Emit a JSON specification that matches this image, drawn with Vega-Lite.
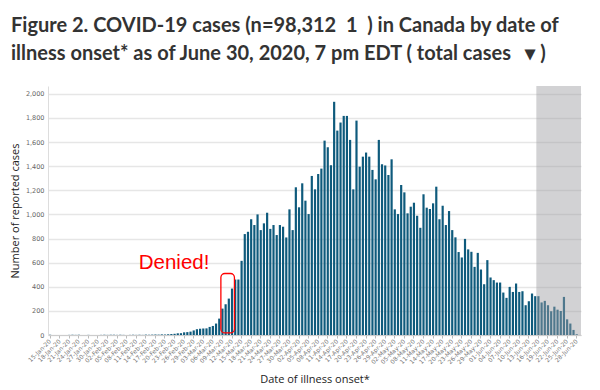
{
  "$schema": "https://vega.github.io/schema/vega-lite/v6.json",
  "width": 533,
  "height": 249,
  "autosize": {"type": "none"},
  "padding": {"left": 48, "top": 86, "right": 19, "bottom": 55},
  "background": "white",
  "title": {
    "text": ["Figure 2. COVID-19 cases (n=98,312\u00a0\u00a01\u00a0\u00a0) in Canada by date of", "illness onset* as of June 30, 2020, 7 pm EDT (\u00a0total cases\u00a0\u00a0\u00a0\u25be\u00a0)"],
    "anchor": "start",
    "frame": "group",
    "dx": -37,
    "offset": 22,
    "font": "Lato",
    "fontWeight": "bold",
    "fontSize": 20,
    "lineHeight": 28,
    "color": "#333333"
  },
  "config": {"view": {"stroke": null}},
  "resolve": {"axis": {"x": "independent", "y": "independent"}},
  "data": {"values": [
    {"date": "2020-01-15", "cases": 2}, {"date": "2020-01-16", "cases": 0}, {"date": "2020-01-17", "cases": 0}, {"date": "2020-01-18", "cases": 0}, {"date": "2020-01-19", "cases": 0}, {"date": "2020-01-20", "cases": 0}, {"date": "2020-01-21", "cases": 1}, {"date": "2020-01-22", "cases": 2}, {"date": "2020-01-23", "cases": 1}, {"date": "2020-01-24", "cases": 2}, {"date": "2020-01-25", "cases": 0}, {"date": "2020-01-26", "cases": 0}, {"date": "2020-01-27", "cases": 1}, {"date": "2020-01-28", "cases": 0}, {"date": "2020-01-29", "cases": 0}, {"date": "2020-01-30", "cases": 0}, {"date": "2020-01-31", "cases": 1},
    {"date": "2020-02-01", "cases": 2}, {"date": "2020-02-02", "cases": 1}, {"date": "2020-02-03", "cases": 2}, {"date": "2020-02-04", "cases": 2}, {"date": "2020-02-05", "cases": 1}, {"date": "2020-02-06", "cases": 2}, {"date": "2020-02-07", "cases": 1}, {"date": "2020-02-08", "cases": 0}, {"date": "2020-02-09", "cases": 1}, {"date": "2020-02-10", "cases": 2}, {"date": "2020-02-11", "cases": 1}, {"date": "2020-02-12", "cases": 2}, {"date": "2020-02-13", "cases": 1}, {"date": "2020-02-14", "cases": 3}, {"date": "2020-02-15", "cases": 2}, {"date": "2020-02-16", "cases": 3}, {"date": "2020-02-17", "cases": 4}, {"date": "2020-02-18", "cases": 3}, {"date": "2020-02-19", "cases": 5}, {"date": "2020-02-20", "cases": 4}, {"date": "2020-02-21", "cases": 6}, {"date": "2020-02-22", "cases": 8}, {"date": "2020-02-23", "cases": 10}, {"date": "2020-02-24", "cases": 14}, {"date": "2020-02-25", "cases": 15}, {"date": "2020-02-26", "cases": 22}, {"date": "2020-02-27", "cases": 24}, {"date": "2020-02-28", "cases": 28}, {"date": "2020-02-29", "cases": 38},
    {"date": "2020-03-01", "cases": 48}, {"date": "2020-03-02", "cases": 52}, {"date": "2020-03-03", "cases": 54}, {"date": "2020-03-04", "cases": 55}, {"date": "2020-03-05", "cases": 67}, {"date": "2020-03-06", "cases": 75}, {"date": "2020-03-07", "cases": 95}, {"date": "2020-03-08", "cases": 136}, {"date": "2020-03-09", "cases": 219}, {"date": "2020-03-10", "cases": 255}, {"date": "2020-03-11", "cases": 302}, {"date": "2020-03-12", "cases": 385}, {"date": "2020-03-13", "cases": 460}, {"date": "2020-03-14", "cases": 460}, {"date": "2020-03-15", "cases": 615}, {"date": "2020-03-16", "cases": 837}, {"date": "2020-03-17", "cases": 856}, {"date": "2020-03-18", "cases": 960}, {"date": "2020-03-19", "cases": 912}, {"date": "2020-03-20", "cases": 1000}, {"date": "2020-03-21", "cases": 870}, {"date": "2020-03-22", "cases": 926}, {"date": "2020-03-23", "cases": 1014}, {"date": "2020-03-24", "cases": 880}, {"date": "2020-03-25", "cases": 912}, {"date": "2020-03-26", "cases": 829}, {"date": "2020-03-27", "cases": 912}, {"date": "2020-03-28", "cases": 898}, {"date": "2020-03-29", "cases": 809}, {"date": "2020-03-30", "cases": 1042}, {"date": "2020-03-31", "cases": 870},
    {"date": "2020-04-01", "cases": 1225}, {"date": "2020-04-02", "cases": 1059}, {"date": "2020-04-03", "cases": 1258}, {"date": "2020-04-04", "cases": 1114}, {"date": "2020-04-05", "cases": 1003}, {"date": "2020-04-06", "cases": 1319}, {"date": "2020-04-07", "cases": 1208}, {"date": "2020-04-08", "cases": 1335}, {"date": "2020-04-09", "cases": 1380}, {"date": "2020-04-10", "cases": 1612}, {"date": "2020-04-11", "cases": 1557}, {"date": "2020-04-12", "cases": 1408}, {"date": "2020-04-13", "cases": 1934}, {"date": "2020-04-14", "cases": 1695}, {"date": "2020-04-15", "cases": 1762}, {"date": "2020-04-16", "cases": 1817}, {"date": "2020-04-17", "cases": 1817}, {"date": "2020-04-18", "cases": 1618}, {"date": "2020-04-19", "cases": 1208}, {"date": "2020-04-20", "cases": 1778}, {"date": "2020-04-21", "cases": 1396}, {"date": "2020-04-22", "cases": 1479}, {"date": "2020-04-23", "cases": 1513}, {"date": "2020-04-24", "cases": 1479}, {"date": "2020-04-25", "cases": 1369}, {"date": "2020-04-26", "cases": 1291}, {"date": "2020-04-27", "cases": 1618}, {"date": "2020-04-28", "cases": 1416}, {"date": "2020-04-29", "cases": 1406}, {"date": "2020-04-30", "cases": 1327},
    {"date": "2020-05-01", "cases": 1457}, {"date": "2020-05-02", "cases": 1042}, {"date": "2020-05-03", "cases": 1003}, {"date": "2020-05-04", "cases": 1244}, {"date": "2020-05-05", "cases": 1183}, {"date": "2020-05-06", "cases": 1009}, {"date": "2020-05-07", "cases": 1064}, {"date": "2020-05-08", "cases": 1097}, {"date": "2020-05-09", "cases": 989}, {"date": "2020-05-10", "cases": 889}, {"date": "2020-05-11", "cases": 1167}, {"date": "2020-05-12", "cases": 1056}, {"date": "2020-05-13", "cases": 1045}, {"date": "2020-05-14", "cases": 1092}, {"date": "2020-05-15", "cases": 1230}, {"date": "2020-05-16", "cases": 960}, {"date": "2020-05-17", "cases": 1072}, {"date": "2020-05-18", "cases": 912}, {"date": "2020-05-19", "cases": 1028}, {"date": "2020-05-20", "cases": 870}, {"date": "2020-05-21", "cases": 810}, {"date": "2020-05-22", "cases": 688}, {"date": "2020-05-23", "cases": 643}, {"date": "2020-05-24", "cases": 797}, {"date": "2020-05-25", "cases": 710}, {"date": "2020-05-26", "cases": 690}, {"date": "2020-05-27", "cases": 565}, {"date": "2020-05-28", "cases": 681}, {"date": "2020-05-29", "cases": 543}, {"date": "2020-05-30", "cases": 421}, {"date": "2020-05-31", "cases": 621},
    {"date": "2020-06-01", "cases": 477}, {"date": "2020-06-02", "cases": 455}, {"date": "2020-06-03", "cases": 435}, {"date": "2020-06-04", "cases": 435}, {"date": "2020-06-05", "cases": 352}, {"date": "2020-06-06", "cases": 308}, {"date": "2020-06-07", "cases": 399}, {"date": "2020-06-08", "cases": 357}, {"date": "2020-06-09", "cases": 427}, {"date": "2020-06-10", "cases": 357}, {"date": "2020-06-11", "cases": 363}, {"date": "2020-06-12", "cases": 247}, {"date": "2020-06-13", "cases": 280}, {"date": "2020-06-14", "cases": 344}, {"date": "2020-06-15", "cases": 322}, {"date": "2020-06-16", "cases": 322}, {"date": "2020-06-17", "cases": 270}, {"date": "2020-06-18", "cases": 283}, {"date": "2020-06-19", "cases": 247}, {"date": "2020-06-20", "cases": 197}, {"date": "2020-06-21", "cases": 235}, {"date": "2020-06-22", "cases": 210}, {"date": "2020-06-23", "cases": 200}, {"date": "2020-06-24", "cases": 316}, {"date": "2020-06-25", "cases": 130}, {"date": "2020-06-26", "cases": 95}, {"date": "2020-06-27", "cases": 42}, {"date": "2020-06-28", "cases": 6}, {"date": "2020-06-29", "cases": 0}
  ]},
  "layer": [
    {
      "mark": {"type": "bar", "color": "#0e5a7c"},
      "encoding": {
        "x": {
          "field": "date", "timeUnit": "utcyearmonthdate", "type": "temporal",
          "scale": {"domain": [{"year": 2020, "month": 1, "date": 15, "utc": true}, {"year": 2020, "month": 6, "date": 30, "utc": true}]},
          "axis": {
            "values": [
              {"year": 2020, "month": 1, "date": 15, "hours": 12, "utc": true}, {"year": 2020, "month": 1, "date": 18, "hours": 12, "utc": true}, {"year": 2020, "month": 1, "date": 21, "hours": 12, "utc": true}, {"year": 2020, "month": 1, "date": 24, "hours": 12, "utc": true}, {"year": 2020, "month": 1, "date": 27, "hours": 12, "utc": true}, {"year": 2020, "month": 1, "date": 30, "hours": 12, "utc": true},
              {"year": 2020, "month": 2, "date": 2, "hours": 12, "utc": true}, {"year": 2020, "month": 2, "date": 5, "hours": 12, "utc": true}, {"year": 2020, "month": 2, "date": 8, "hours": 12, "utc": true}, {"year": 2020, "month": 2, "date": 11, "hours": 12, "utc": true}, {"year": 2020, "month": 2, "date": 14, "hours": 12, "utc": true}, {"year": 2020, "month": 2, "date": 17, "hours": 12, "utc": true}, {"year": 2020, "month": 2, "date": 20, "hours": 12, "utc": true}, {"year": 2020, "month": 2, "date": 23, "hours": 12, "utc": true}, {"year": 2020, "month": 2, "date": 26, "hours": 12, "utc": true}, {"year": 2020, "month": 2, "date": 29, "hours": 12, "utc": true},
              {"year": 2020, "month": 3, "date": 3, "hours": 12, "utc": true}, {"year": 2020, "month": 3, "date": 6, "hours": 12, "utc": true}, {"year": 2020, "month": 3, "date": 9, "hours": 12, "utc": true}, {"year": 2020, "month": 3, "date": 12, "hours": 12, "utc": true}, {"year": 2020, "month": 3, "date": 15, "hours": 12, "utc": true}, {"year": 2020, "month": 3, "date": 18, "hours": 12, "utc": true}, {"year": 2020, "month": 3, "date": 21, "hours": 12, "utc": true}, {"year": 2020, "month": 3, "date": 24, "hours": 12, "utc": true}, {"year": 2020, "month": 3, "date": 27, "hours": 12, "utc": true}, {"year": 2020, "month": 3, "date": 30, "hours": 12, "utc": true},
              {"year": 2020, "month": 4, "date": 2, "hours": 12, "utc": true}, {"year": 2020, "month": 4, "date": 5, "hours": 12, "utc": true}, {"year": 2020, "month": 4, "date": 8, "hours": 12, "utc": true}, {"year": 2020, "month": 4, "date": 11, "hours": 12, "utc": true}, {"year": 2020, "month": 4, "date": 14, "hours": 12, "utc": true}, {"year": 2020, "month": 4, "date": 17, "hours": 12, "utc": true}, {"year": 2020, "month": 4, "date": 20, "hours": 12, "utc": true}, {"year": 2020, "month": 4, "date": 23, "hours": 12, "utc": true}, {"year": 2020, "month": 4, "date": 26, "hours": 12, "utc": true}, {"year": 2020, "month": 4, "date": 29, "hours": 12, "utc": true},
              {"year": 2020, "month": 5, "date": 2, "hours": 12, "utc": true}, {"year": 2020, "month": 5, "date": 5, "hours": 12, "utc": true}, {"year": 2020, "month": 5, "date": 8, "hours": 12, "utc": true}, {"year": 2020, "month": 5, "date": 11, "hours": 12, "utc": true}, {"year": 2020, "month": 5, "date": 14, "hours": 12, "utc": true}, {"year": 2020, "month": 5, "date": 17, "hours": 12, "utc": true}, {"year": 2020, "month": 5, "date": 20, "hours": 12, "utc": true}, {"year": 2020, "month": 5, "date": 23, "hours": 12, "utc": true}, {"year": 2020, "month": 5, "date": 26, "hours": 12, "utc": true}, {"year": 2020, "month": 5, "date": 29, "hours": 12, "utc": true},
              {"year": 2020, "month": 6, "date": 1, "hours": 12, "utc": true}, {"year": 2020, "month": 6, "date": 4, "hours": 12, "utc": true}, {"year": 2020, "month": 6, "date": 7, "hours": 12, "utc": true}, {"year": 2020, "month": 6, "date": 10, "hours": 12, "utc": true}, {"year": 2020, "month": 6, "date": 13, "hours": 12, "utc": true}, {"year": 2020, "month": 6, "date": 16, "hours": 12, "utc": true}, {"year": 2020, "month": 6, "date": 19, "hours": 12, "utc": true}, {"year": 2020, "month": 6, "date": 22, "hours": 12, "utc": true}, {"year": 2020, "month": 6, "date": 25, "hours": 12, "utc": true}, {"year": 2020, "month": 6, "date": 28, "hours": 12, "utc": true}
            ],
            "format": "%d-%b-%y",
            "labelAngle": -45,
            "labelAlign": "right",
            "labelBaseline": "middle",
            "labelFont": "DejaVu Sans",
            "labelFontSize": 6,
            "labelColor": "#777777",
            "labelOverlap": false,
            "labelPadding": 2,
            "tickColor": "#bbbbbb",
            "tickSize": 3,
            "domainColor": "#cccccc",
            "grid": false,
            "title": "Date of illness onset*",
            "titleFont": "Open Sans",
            "titleFontSize": 11,
            "titleFontWeight": "normal",
            "titleColor": "#222222",
            "titlePadding": 9
          }
        },
        "y": {
          "field": "cases", "type": "quantitative",
          "scale": {"domain": [0, 2065], "nice": false},
          "axis": {
            "values": [0, 200, 400, 600, 800, 1000, 1200, 1400, 1600, 1800, 2000],
            "format": ",d",
            "labelFont": "DejaVu Sans",
            "labelFontSize": 6.5,
            "labelColor": "#666666",
            "labelPadding": 4,
            "labelOverlap": false,
            "ticks": false,
            "domainColor": "#dddddd",
            "gridColor": "#e6e6e6",
            "gridWidth": 1.5,
            "title": "Number of reported cases",
            "titleFont": "Open Sans",
            "titleFontSize": 11,
            "titleFontWeight": "normal",
            "titleColor": "#222222",
            "titlePadding": 5
          }
        }
      }
    },
    {
      "data": {"values": [{}]},
      "mark": {"type": "rect", "color": "#9c9ca2", "opacity": 0.46},
      "encoding": {
        "x": {"datum": {"year": 2020, "month": 6, "date": 16, "utc": true}, "type": "temporal", "axis": null},
        "x2": {"datum": {"year": 2020, "month": 6, "date": 30, "utc": true}}
      }
    },
    {
      "data": {"values": [{}]},
      "mark": {"type": "rect", "fillOpacity": 0, "stroke": "#ff0000", "strokeWidth": 1.3, "cornerRadius": 4},
      "encoding": {
        "x": {"datum": {"year": 2020, "month": 3, "date": 9, "hours": 4, "utc": true}, "type": "temporal", "axis": null},
        "x2": {"datum": {"year": 2020, "month": 3, "date": 13, "hours": 10, "utc": true}},
        "y": {"datum": 510, "type": "quantitative", "axis": null},
        "y2": {"datum": 17}
      }
    },
    {
      "data": {"values": [{}]},
      "mark": {"type": "text", "text": "Denied!", "color": "#ff0000", "font": "Liberation Sans", "fontSize": 20.5, "align": "center", "baseline": "alphabetic"},
      "encoding": {
        "x": {"datum": {"year": 2020, "month": 2, "date": 23, "hours": 12, "utc": true}, "type": "temporal", "axis": null},
        "y": {"datum": 546, "type": "quantitative", "axis": null}
      }
    }
  ]
}
